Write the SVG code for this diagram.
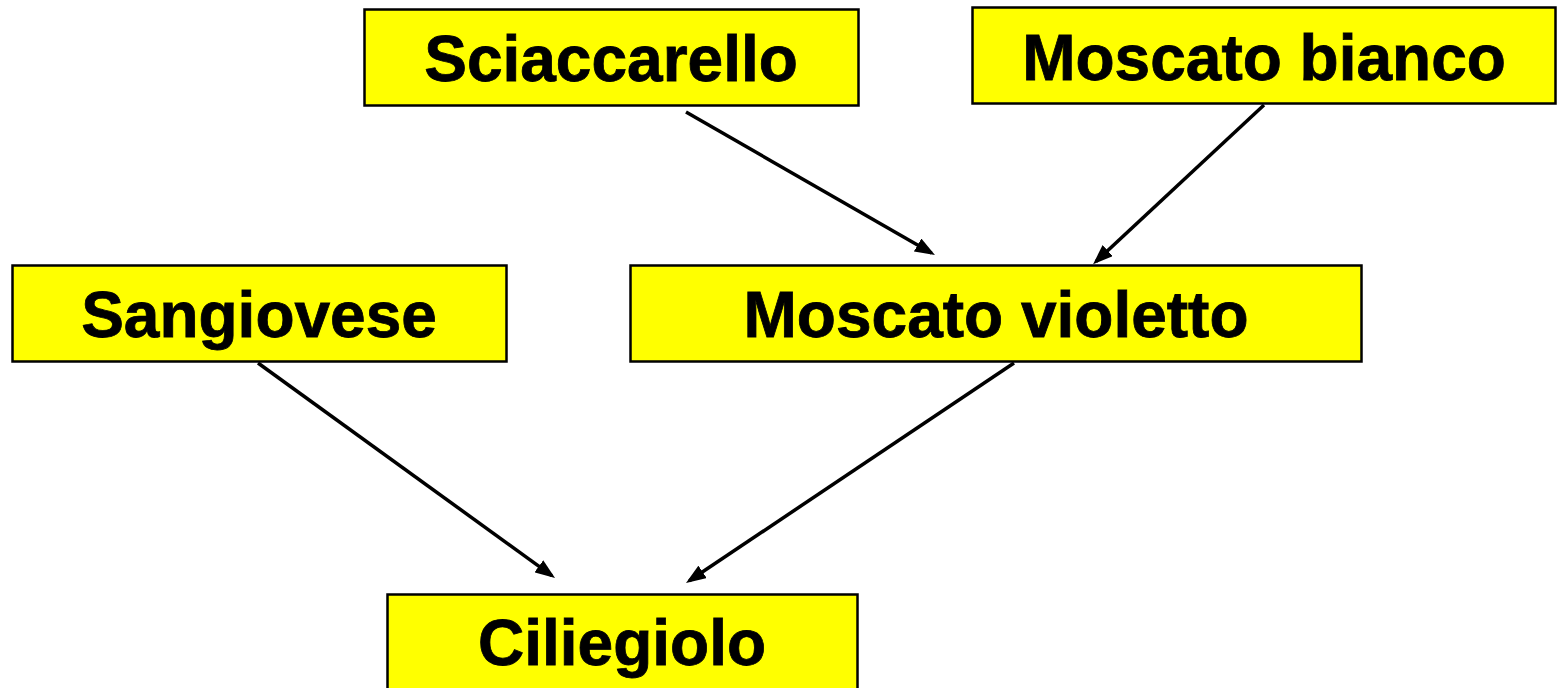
<svg xmlns="http://www.w3.org/2000/svg" width="1560" height="688" viewBox="0 0 1560 688">
<style>
.box{fill:#ffff00;stroke:#000;stroke-width:2.5}
.lbl{font-family:"Liberation Sans",Arial,sans-serif;font-weight:bold;font-size:64px;fill:#000;stroke:#000;stroke-width:0.8;text-anchor:middle}
.edge{stroke:#000;stroke-width:3.5;fill:none;marker-end:url(#ah)}
</style>
<defs>
<marker id="ah" markerUnits="userSpaceOnUse" viewBox="0 0 20 15" markerWidth="20" markerHeight="15" refX="16" refY="7.5" orient="auto">
<path d="M0,0 L20,7.5 L0,15 z" fill="#000"/>
</marker>
</defs>
<rect width="1560" height="688" fill="#fff"/>
<g id="connectors">
<line class="edge" x1="686" y1="112" x2="931.5" y2="253"/>
<line class="edge" x1="1264" y1="105" x2="1096" y2="261.5"/>
<line class="edge" x1="258" y1="363" x2="551.8" y2="575.6"/>
<line class="edge" x1="1014" y1="363" x2="689.3" y2="580.8"/>
</g>
<g id="sciaccarello">
<rect class="box" x="364.5" y="9.5" width="494" height="96"/>
<text class="lbl" x="611" y="81">Sciaccarello</text>
</g>
<g id="moscato-bianco">
<rect class="box" x="972.5" y="7.5" width="583" height="96"/>
<text class="lbl" x="1264" y="80">Moscato bianco</text>
</g>
<g id="sangiovese">
<rect class="box" x="12.5" y="265.5" width="494" height="96"/>
<text class="lbl" x="259" y="337">Sangiovese</text>
</g>
<g id="moscato-violetto">
<rect class="box" x="630.5" y="265.5" width="731" height="96"/>
<text class="lbl" x="996" y="337">Moscato violetto</text>
</g>
<g id="ciliegiolo">
<rect class="box" x="387.5" y="594.5" width="470" height="100"/>
<text class="lbl" x="622" y="665">Ciliegiolo</text>
</g>
</svg>
